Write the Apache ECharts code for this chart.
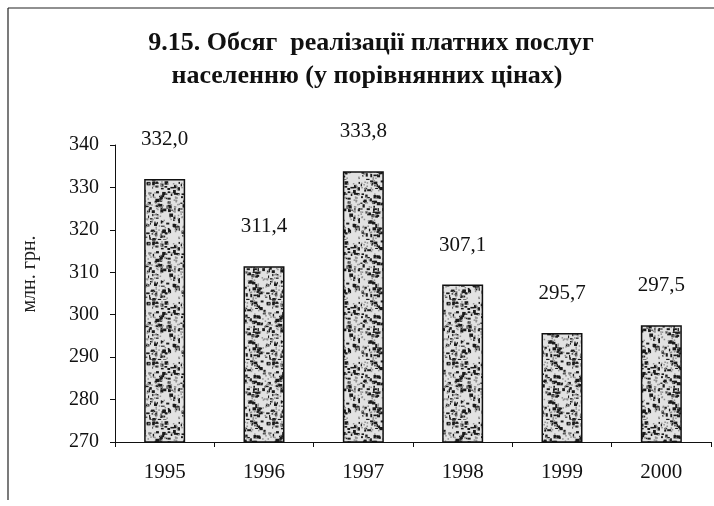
<!DOCTYPE html>
<html>
<head>
<meta charset="utf-8">
<script src="https://cdn.jsdelivr.net/npm/echarts@6/dist/echarts.min.js"></script>
<style>
  html, body { margin: 0; padding: 0; background: #fff; }
  #chart { width: 714px; height: 506px; }
</style>
</head>
<body>
<div id="chart"></div>
<script>
var years = ['1995', '1996', '1997', '1998', '1999', '2000'];
var values = [332.0, 311.4, 333.8, 307.1, 295.7, 297.5];
var yTicks = [270, 280, 290, 300, 310, 320, 330, 340];

var serif = '"Liberation Serif", "DejaVu Serif", serif';

// stippled fill like the print scan
function makeSpeckle() {
    var c = document.createElement('canvas');
    c.width = 60;
    c.height = 60;
    var ctx = c.getContext('2d');
    ctx.fillStyle = '#e2e2e2';
    ctx.fillRect(0, 0, 60, 60);
    var seed = 12345;
    function next() {
        seed = (seed * 1103515245 + 12345) % 2147483648;
        return seed / 2147483648;
    }
    ctx.fillStyle = '#1a1a1a';
    for (var i = 0; i < 200; i++) {
        var x = next() * 60, y = next() * 60;
        var w = 1 + next() * 3, h = 1 + next() * 2.5;
        ctx.fillRect(x, y, w, h);
    }
    ctx.fillStyle = '#909090';
    for (var j = 0; j < 180; j++) {
        ctx.fillRect(next() * 60, next() * 60, 1.5, 1.5);
    }
    return c;
}

var chart = echarts.init(document.getElementById('chart'));
chart.setOption({
    animation: false,
    backgroundColor: '#fff',
    grid: { left: 115, right: 3, top: 145, bottom: 64 },
    graphic: [
        { type: 'line', shape: { x1: 8, y1: 8, x2: 714, y2: 8 }, style: { stroke: '#222', lineWidth: 1.2 } },
        { type: 'line', shape: { x1: 8, y1: 8, x2: 8, y2: 500 }, style: { stroke: '#222', lineWidth: 1.2 } },
        { type: 'text', x: 371, y: 43, style: { text: '9.15. Обсяг  реалізації платних послуг', font: 'bold 26px ' + serif, fill: '#111', textAlign: 'center', textVerticalAlign: 'middle' } },
        { type: 'text', x: 367, y: 76, style: { text: 'населенню (у порівнянних цінах)', font: 'bold 26px ' + serif, fill: '#111', textAlign: 'center', textVerticalAlign: 'middle' } },
        { type: 'text', x: 30, y: 274, rotation: Math.PI / 2, style: { text: 'млн. грн.', font: '20px ' + serif, fill: '#222', textAlign: 'center', textVerticalAlign: 'middle' } }
    ],
    xAxis: {
        type: 'category',
        data: years,
        axisLine: { lineStyle: { color: '#111', width: 1 } },
        axisTick: { show: true, alignWithLabel: false, length: 5, lineStyle: { color: '#111' } },
        axisLabel: { color: '#111', fontFamily: serif, fontSize: 21, margin: 20 }
    },
    yAxis: {
        type: 'value',
        min: yTicks[0],
        max: yTicks[yTicks.length - 1],
        interval: 10,
        splitLine: { show: false },
        axisLine: { show: true, lineStyle: { color: '#111', width: 1 } },
        axisTick: { show: true, length: 5, lineStyle: { color: '#111' } },
        axisLabel: { color: '#111', fontFamily: serif, fontSize: 20, margin: 16 }
    },
    series: [{
        type: 'bar',
        data: values,
        barWidth: 41,
        itemStyle: {
            color: { image: makeSpeckle(), repeat: 'repeat' },
            borderColor: '#111',
            borderWidth: 1.5
        },
        label: {
            show: true,
            position: 'top',
            distance: 29,
            color: '#111',
            fontFamily: serif,
            fontSize: 21,
            formatter: function (p) { return p.value.toFixed(1).replace('.', ','); }
        }
    }]
});
</script>
</body>
</html>
